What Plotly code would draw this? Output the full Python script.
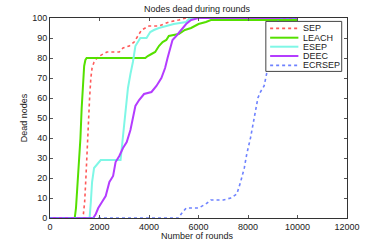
import plotly.graph_objects as go

sep_x = [0, 1300, 1350, 1400, 1450, 1500, 1550, 1600, 1650, 1700, 1780, 1900, 2000, 2150, 2300, 2800, 2950, 3200, 3400, 3550, 3700, 3850, 4000, 4400, 4600, 4800, 5200, 5500, 10000]
sep_y = [0, 0, 2, 8, 20, 35, 50, 60, 70, 75, 78, 80, 81, 82, 83, 83, 85, 86, 88, 91, 94, 95, 96, 96, 97, 98, 99, 100, 100]

leach_x = [0, 1000, 1050, 1120, 1170, 1230, 1280, 1330, 1380, 1430, 1480, 3850, 3950, 4100, 4250, 4400, 4550, 4700, 4800, 5200, 5450, 5700, 6000, 6300, 6500, 10000]
leach_y = [0, 0, 5, 18, 28, 40, 55, 70, 76, 79, 80, 80, 81, 82, 83, 86, 88, 89, 91, 92, 94, 95, 97, 98, 99, 99]

esep_x = [0, 1600, 1650, 1700, 1780, 1900, 2050, 2850, 2950, 3050, 3150, 3250, 3350, 3450, 3550, 3650, 3900, 4050, 4200, 4400, 4700, 5000, 5500, 5650, 10000]
esep_y = [0, 0, 8, 18, 25, 27, 29, 29, 40, 52, 65, 72, 78, 86, 88, 90, 90, 93, 94, 95, 96, 97, 98, 100, 100]

deec_x = [0, 1750, 1850, 1950, 2100, 2250, 2400, 2550, 2650, 2800, 2950, 3100, 3250, 3350, 3450, 3600, 3800, 4100, 4300, 4500, 4650, 4750, 4850, 4950, 5100, 5300, 5500, 5700, 6000, 10000]
deec_y = [0, 0, 2, 5, 8, 11, 18, 21, 28, 31, 35, 38, 44, 50, 56, 59, 62, 63, 66, 70, 75, 80, 85, 89, 91, 94, 97, 99, 100, 100]

ecrsep_x = [0, 5200, 5300, 5500, 6000, 6300, 6500, 7000, 7300, 7550, 7700, 7850, 7950, 8100, 8250, 8400, 8500, 8650, 8800, 8950, 9100, 9300, 10000]
ecrsep_y = [0, 0, 2, 5, 5, 7, 9, 9, 10, 12, 18, 25, 32, 40, 50, 60, 63, 66, 75, 88, 96, 100, 100]

series_names = ["SEP", "LEACH", "ESEP", "DEEC", "ECRSEP"]
series_x = [sep_x, leach_x, esep_x, deec_x, ecrsep_x]
series_y = [sep_y, leach_y, esep_y, deec_y, ecrsep_y]
colors = ["#ff5a5a", "#55e000", "#7ff7e6", "#b43cff", "#6e82ff"]
dashes = ["dot", "solid", "solid", "solid", "dot"]
widths = [1.6, 2, 2, 2, 1.6]

W, H = 382, 245
L, R, T, B = 49.5, 35, 18.3, 245 - 218.3
pw, ph = W - L - R, H - T - B


def px(x):
    return (x - L) / pw


def py(y):
    return (H - B - y) / ph


fig = go.Figure()
for name, xs, ys, col, dash, w in zip(series_names, series_x, series_y, colors, dashes, widths):
    fig.add_trace(go.Scatter(x=xs, y=ys, name=name, mode="lines",
                             line=dict(color=col, dash=dash, width=w)))

axis_common = dict(showline=True, linecolor="#333", linewidth=1, mirror="ticks",
                   ticks="inside", ticklen=3, tickcolor="#555", showgrid=False,
                   zeroline=False, tickfont=dict(size=9, color="#222"))

# MATLAB-style legend box
shapes = [dict(type="rect", xref="paper", yref="paper",
               x0=px(265.7), x1=px(341.7), y0=py(71.7), y1=py(21.7),
               fillcolor="white", line=dict(color="#444", width=1), layer="above")]
annotations = []
ys_leg = [28.7, 38, 47, 56.3, 65.7]
for name, col, dash, w, yl in zip(series_names, colors, dashes, widths, ys_leg):
    shapes.append(dict(type="line", xref="paper", yref="paper",
                       x0=px(270), x1=px(298.3), y0=py(yl), y1=py(yl),
                       line=dict(color=col, dash=dash, width=w), layer="above"))
    annotations.append(dict(text=name, xref="paper", yref="paper", x=px(301), y=py(yl),
                            xanchor="left", yanchor="middle", showarrow=False,
                            font=dict(size=9, color="#222")))

annotations.append(dict(text="Number of rounds", xref="paper", yref="paper",
                        x=px(197), y=py(236.5), xanchor="center", yanchor="middle",
                        showarrow=False, font=dict(size=9, color="#222")))
annotations.append(dict(text="Dead nodes", xref="paper", yref="paper", textangle=-90,
                        x=px(23), y=py(118), xanchor="center", yanchor="middle",
                        showarrow=False, font=dict(size=9, color="#222")))
annotations.append(dict(text="Nodes dead during rounds", xref="paper", yref="paper",
                        x=px(197), y=py(9), xanchor="center", yanchor="middle",
                        showarrow=False, font=dict(size=9, color="#222")))

fig.update_layout(
    width=W, height=H,
    margin=dict(l=L, r=R, t=T, b=B),
    paper_bgcolor="white", plot_bgcolor="white",
    font=dict(family="Liberation Sans, Arial, sans-serif", size=9, color="#222"),
    xaxis=dict(range=[0, 12000], dtick=2000, tickformat="d", **axis_common),
    yaxis=dict(range=[0, 100], dtick=10, **axis_common),
    showlegend=False,
    shapes=shapes,
    annotations=annotations,
)

fig.write_html("out.html", config={"displayModeBar": False},
               post_script="document.body.style.margin='0px';")
